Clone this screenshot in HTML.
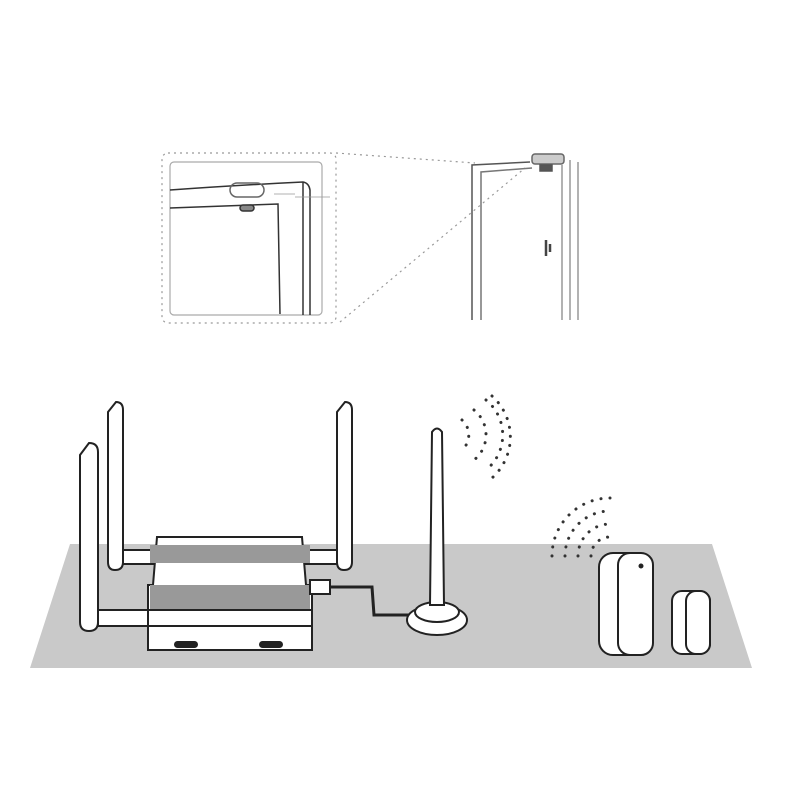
<!DOCTYPE html>
<html><head><style>body{margin:0;background:#fff}svg{display:block}</style></head><body>
<svg width="800" height="800" viewBox="0 0 800 800" xmlns="http://www.w3.org/2000/svg">
<rect width="800" height="800" fill="#fff"/>
<!-- top detail -->
<g fill="none" stroke="#999" stroke-width="1.2">
<rect x="162" y="153" width="174" height="170" rx="6" stroke-dasharray="2,4"/>
<line x1="336" y1="153" x2="475" y2="163" stroke-dasharray="2,4"/>
<line x1="340" y1="322" x2="525" y2="168" stroke-dasharray="2,4"/>
<rect x="170" y="162" width="152" height="153" rx="4" stroke="#aaa"/>
</g>
<g fill="none" stroke="#333" stroke-width="1.5">
<path d="M170 190 Q240 185 303 182 Q309 183 310 190 L310 315"/>
<path d="M170 208 Q230 206 278 204 L280 314"/>
<path d="M303 182 L303 315"/>
<rect x="230" y="183" width="34" height="14" rx="7" stroke="#666"/>
<rect x="240" y="205" width="14" height="6" rx="3" fill="#888"/>
<path d="M274 194 L295 194 M295 197 L330 197" stroke="#999" stroke-width="0.8"/>
<path d="M472 320 L472 165 L530 162" stroke="#555"/>
<path d="M481 320 L481 172 L532 168" stroke="#777"/>
<path d="M562 165 L562 320 M570 160 L570 320 M578 162 L578 320" stroke="#999"/>
<rect x="532" y="154" width="32" height="10" rx="3" fill="#ccc" stroke="#666"/>
<rect x="540" y="165" width="12" height="6" fill="#555" stroke="#555"/>
<path d="M546 240 L546 256 M550 244 L550 252" stroke="#444" stroke-width="2.5"/>
</g>
<!-- floor -->
<polygon points="70,544 712,544 752,668 30,668" fill="#c9c9c9"/>
<!-- router -->
<g stroke="#222" stroke-width="2" fill="#fff">
<path d="M108 412 L116 402 Q123 402 123 410 L123 562 Q123 570 115 570 Q108 570 108 562 Z"/>
<path d="M337 412 L345 402 Q352 402 352 410 L352 562 Q352 570 344 570 Q337 570 337 562 Z"/>
<rect x="123" y="550" width="35" height="14" />
<rect x="302" y="550" width="35" height="14" />
<path d="M157 537 L302 537 L306 585 L312 585 L312 650 L148 650 L148 585 L153 585 Z"/>
<rect x="150" y="545" width="160" height="18" fill="#999" stroke="none"/>
<rect x="150" y="585" width="160" height="25" fill="#999" stroke="none"/>
<line x1="148" y1="610" x2="312" y2="610"/>
<line x1="148" y1="626" x2="312" y2="626"/>
<path d="M80 455 L89 443 Q98 443 98 452 L98 622 Q98 631 89 631 Q80 631 80 622 Z"/>
<rect x="98" y="610" width="50" height="16"/>
<rect x="310" y="580" width="20" height="14"/>
<rect x="175" y="642" width="22" height="5" rx="2.5" fill="#222"/>
<rect x="260" y="642" width="22" height="5" rx="2.5" fill="#222"/>
<path d="M330 587 L372 587 L374 615 L410 615" fill="none" stroke-width="3"/>
<ellipse cx="437" cy="620" rx="30" ry="15"/>
<ellipse cx="437" cy="612" rx="22" ry="10"/>
<path d="M432 432 Q437 425 442 432 L444 605 L430 605 Z"/>
</g>
<!-- dots -->
<g fill="none" stroke="#333" stroke-width="3" stroke-linecap="round" stroke-dasharray="0.1,9">
<path d="M462 420 A20 20 0 0 1 462 450"/>
<path d="M474 410 A32 32 0 0 1 474 460"/>
<path d="M486 400 A45 45 0 0 1 486 470"/>
<path d="M492 396 A55 55 0 0 1 492 478"/>
<path d="M552 556 A58 58 0 0 1 610 498"/>
<path d="M565 556 A45 45 0 0 1 610 511"/>
<path d="M578 556 A32 32 0 0 1 610 524"/>
<path d="M591 556 A19 19 0 0 1 610 537"/>
</g>
<!-- sensor -->
<g stroke="#222" stroke-width="2" fill="#fff">
<rect x="599" y="553" width="52" height="102" rx="14"/>
<rect x="618" y="553" width="35" height="102" rx="12"/>
<rect x="672" y="591" width="38" height="63" rx="10"/>
<rect x="686" y="591" width="24" height="63" rx="10"/>
<circle cx="641" cy="566" r="1.5" fill="#222"/>
</g>
</svg>
</body></html>
